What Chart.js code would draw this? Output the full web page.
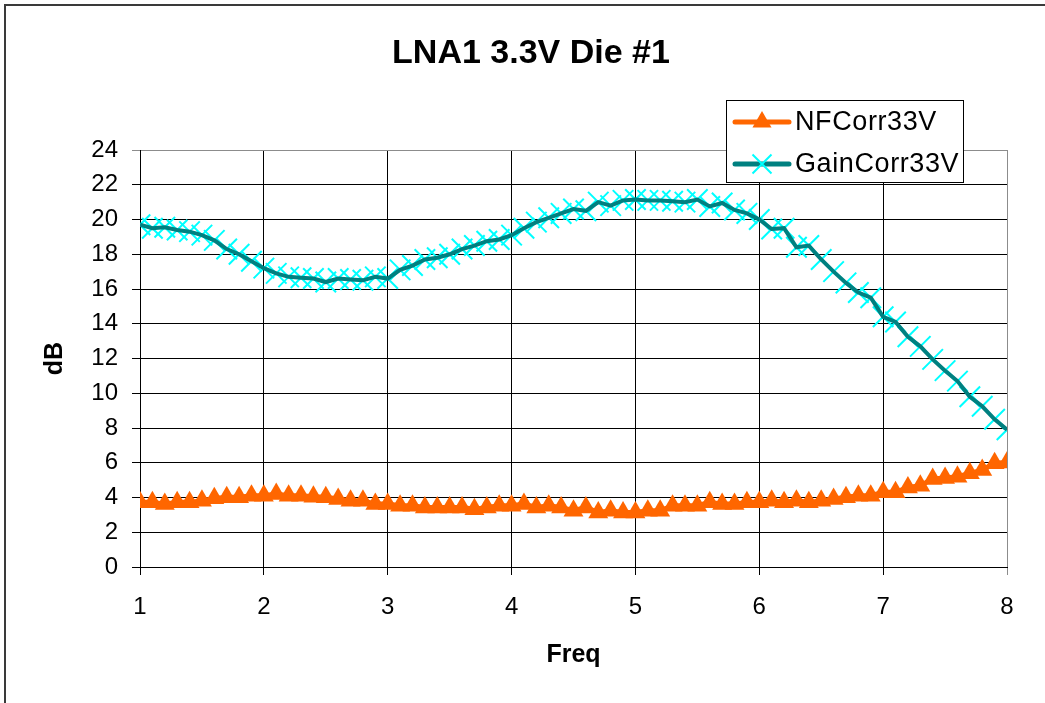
<!DOCTYPE html>
<html>
<head>
<meta charset="utf-8">
<script src="https://cdn.jsdelivr.net/npm/chart.js@4.4.1/dist/chart.umd.min.js"></script>
<style>
  html, body { margin: 0; padding: 0; background: #fff; }
  #wrap { position: absolute; left: 0; top: 0; width: 1045px; height: 703px; }
</style>
</head>
<body>
<div id="wrap"><canvas id="c" width="1045" height="703"></canvas></div>
<script>
const chartTitle = 'LNA1 3.3V Die #1';
const xTitle = 'Freq';
const yTitle = 'dB';
const seriesNames = ['NFCorr33V', 'GainCorr33V'];

const freq = [
  1.0, 1.1, 1.2, 1.3, 1.4, 1.5, 1.6, 1.7, 1.8, 1.9,
  2.0, 2.1, 2.2, 2.3, 2.4, 2.5, 2.6, 2.7, 2.8, 2.9,
  3.0, 3.1, 3.2, 3.3, 3.4, 3.5, 3.6, 3.7, 3.8, 3.9,
  4.0, 4.1, 4.2, 4.3, 4.4, 4.5, 4.6, 4.7, 4.8, 4.9,
  5.0, 5.1, 5.2, 5.3, 5.4, 5.5, 5.6, 5.7, 5.8, 5.9,
  6.0, 6.1, 6.2, 6.3, 6.4, 6.5, 6.6, 6.7, 6.8, 6.9,
  7.0, 7.1, 7.2, 7.3, 7.4, 7.5, 7.6, 7.7, 7.8, 7.9,
  8.0
];

const nfCorr33V = [
  3.72, 3.72, 3.62, 3.72, 3.72, 3.82, 3.95, 4.01, 4.01, 4.10,
  4.10, 4.20, 4.10, 4.10, 4.05, 4.01, 3.91, 3.82, 3.82, 3.62,
  3.62, 3.53, 3.53, 3.43, 3.43, 3.43, 3.43, 3.33, 3.43, 3.53,
  3.53, 3.62, 3.43, 3.53, 3.43, 3.24, 3.43, 3.14, 3.24, 3.14,
  3.14, 3.24, 3.24, 3.53, 3.53, 3.53, 3.72, 3.62, 3.62, 3.72,
  3.72, 3.82, 3.72, 3.82, 3.72, 3.82, 3.91, 4.01, 4.10, 4.10,
  4.30, 4.30, 4.58, 4.68, 5.07, 5.12, 5.20, 5.39, 5.58, 5.97,
  6.01
];

const gainCorr33V = [
  19.70, 19.50, 19.55, 19.40, 19.30, 19.10, 18.80, 18.30, 18.00, 17.60,
  17.20, 16.90, 16.70, 16.65, 16.60, 16.40, 16.60, 16.55, 16.50, 16.70,
  16.60, 17.10, 17.35, 17.70, 17.80, 18.00, 18.30, 18.50, 18.75, 18.85,
  19.10, 19.50, 19.85, 20.10, 20.35, 20.60, 20.50, 21.00, 20.80, 21.10,
  21.15, 21.10, 21.10, 21.05, 21.00, 21.15, 20.75, 20.95, 20.55, 20.35,
  20.00, 19.45, 19.50, 18.40, 18.50, 17.70, 17.00, 16.35, 15.80, 15.50,
  14.40, 14.10, 13.25, 12.70, 11.95, 11.30, 10.70, 9.80, 9.25, 8.50,
  7.90
];

const xTickValues = [1, 2, 3, 4, 5, 6, 7, 8];
const yTickValues = [0, 2, 4, 6, 8, 10, 12, 14, 16, 18, 20, 22, 24];

const FONT = "'Liberation Sans', Arial, Helvetica, sans-serif";
Chart.defaults.font.family = FONT;
Chart.defaults.color = '#000';

const toPoints = (ys) => freq.map((f, i) => ({ x: f, y: ys[i] }));

const frame = {
  id: 'frame',
  beforeDraw(chart) {
    const ctx = chart.ctx;
    ctx.save();
    ctx.fillStyle = '#fff';
    ctx.fillRect(0, 0, chart.width, chart.height);
    ctx.strokeStyle = '#3a3a3a';
    ctx.lineWidth = 2;
    ctx.beginPath();
    ctx.moveTo(5, chart.height);
    ctx.lineTo(5, 5);
    ctx.lineTo(chart.width, 5);
    ctx.stroke();
    ctx.restore();
  }
};

const boxLegend = {
  id: 'boxLegend',
  afterDraw(chart) {
    const ctx = chart.ctx;
    const entries = chart.data.datasets.filter(d => d.inLegend);
    const bx = 726.5, by = 100.5, bw = 237, bh = 82;
    ctx.save();
    ctx.fillStyle = '#fff';
    ctx.fillRect(bx, by, bw, bh);
    ctx.strokeStyle = '#000';
    ctx.lineWidth = 1;
    ctx.strokeRect(bx, by, bw, bh);
    const rows = [122, 164];
    entries.forEach((d, i) => {
      const y = rows[i];
      ctx.strokeStyle = d.legendLine;
      ctx.lineWidth = 5;
      ctx.lineCap = 'round';
      ctx.beginPath();
      ctx.moveTo(735, y);
      ctx.lineTo(789, y);
      ctx.stroke();
      const mx = 762;
      if (d.legendMarker === 'triangle') {
        const r = 11;
        ctx.fillStyle = d.legendMarkerColor;
        ctx.beginPath();
        ctx.moveTo(mx, y - r);
        ctx.lineTo(mx + r * 0.866, y + r / 2);
        ctx.lineTo(mx - r * 0.866, y + r / 2);
        ctx.closePath();
        ctx.fill();
      } else {
        const h = 9.5;
        ctx.strokeStyle = d.legendMarkerColor;
        ctx.lineWidth = 2;
        ctx.lineCap = 'butt';
        ctx.beginPath();
        ctx.moveTo(mx - h, y - h); ctx.lineTo(mx + h, y + h);
        ctx.moveTo(mx - h, y + h); ctx.lineTo(mx + h, y - h);
        ctx.stroke();
      }
      ctx.fillStyle = '#000';
      ctx.font = "27px " + FONT;
      try { ctx.letterSpacing = '0.6px'; } catch (e) {}
      ctx.textAlign = 'left';
      ctx.textBaseline = 'middle';
      ctx.fillText(d.label, 795, y + 1);
    });
    ctx.restore();
  }
};

new Chart(document.getElementById('c'), {
  type: 'line',
  data: {
    datasets: [
      {
        label: seriesNames[0],
        data: toPoints(nfCorr33V),
        borderColor: '#FF6600',
        borderWidth: 5,
        pointStyle: 'triangle',
        pointRadius: 11.5,
        pointBackgroundColor: '#FF6600',
        pointBorderColor: '#FF6600',
        pointBorderWidth: 0,
        tension: 0,
        order: 3,
        inLegend: true,
        legendLine: '#FF6600',
        legendMarker: 'triangle',
        legendMarkerColor: '#FF6600'
      },
      {
        label: seriesNames[1] + ' markers',
        data: toPoints(gainCorr33V),
        showLine: false,
        pointStyle: 'crossRot',
        pointRadius: 14.5,
        pointBorderColor: '#00FFFF',
        pointBorderWidth: 2,
        order: 2
      },
      {
        label: seriesNames[1],
        data: toPoints(gainCorr33V),
        borderColor: '#008080',
        borderWidth: 4,
        pointRadius: 0,
        tension: 0,
        order: 0,
        inLegend: true,
        legendLine: '#008080',
        legendMarker: 'cross',
        legendMarkerColor: '#00FFFF'
      }
    ]
  },
  options: {
    responsive: false,
    animation: false,
    devicePixelRatio: 1,
    layout: { padding: { top: 0, left: 55, right: 38, bottom: 0 } },
    plugins: {
      legend: { display: false },
      tooltip: { enabled: false },
      title: {
        display: true,
        text: chartTitle,
        color: '#000',
        font: { size: 34, weight: 'bold', family: FONT },
        padding: { top: 33, bottom: 76.2 }
      }
    },
    scales: {
      x: {
        type: 'linear',
        min: 1,
        max: 8,
        afterBuildTicks: (s) => { s.ticks = xTickValues.map(v => ({ value: v })); },
        afterFit: (s) => { s.height = 136; },
        ticks: { font: { size: 24 }, color: '#000', padding: 18, maxRotation: 0 },
        grid: {
          color: (c) => (c.tick && c.tick.value === 8 ? '#8c8c8c' : '#000'),
          lineWidth: 1,
          tickLength: 8,
          drawTicks: true
        },
        border: { color: '#000', width: 1 },
        title: {
          display: true,
          text: xTitle,
          color: '#000',
          font: { size: 25, weight: 'bold' },
          padding: { top: 0, bottom: 33 }
        }
      },
      y: {
        type: 'linear',
        min: 0,
        max: 24,
        afterBuildTicks: (s) => { s.ticks = yTickValues.map(v => ({ value: v })); },
        afterFit: (s) => { s.width = 85; },
        ticks: { font: { size: 24 }, color: '#000', padding: 14 },
        grid: {
          color: (c) => (c.tick && c.tick.value === 24 ? '#8c8c8c' : '#000'),
          lineWidth: 1,
          tickLength: 8,
          drawTicks: true
        },
        border: { color: '#000', width: 1 },
        title: {
          display: true,
          text: yTitle,
          color: '#000',
          font: { size: 25, weight: 'bold' },
          padding: { top: -15, bottom: 0 }
        }
      }
    }
  },
  plugins: [frame, boxLegend]
});
</script>
</body>
</html>
